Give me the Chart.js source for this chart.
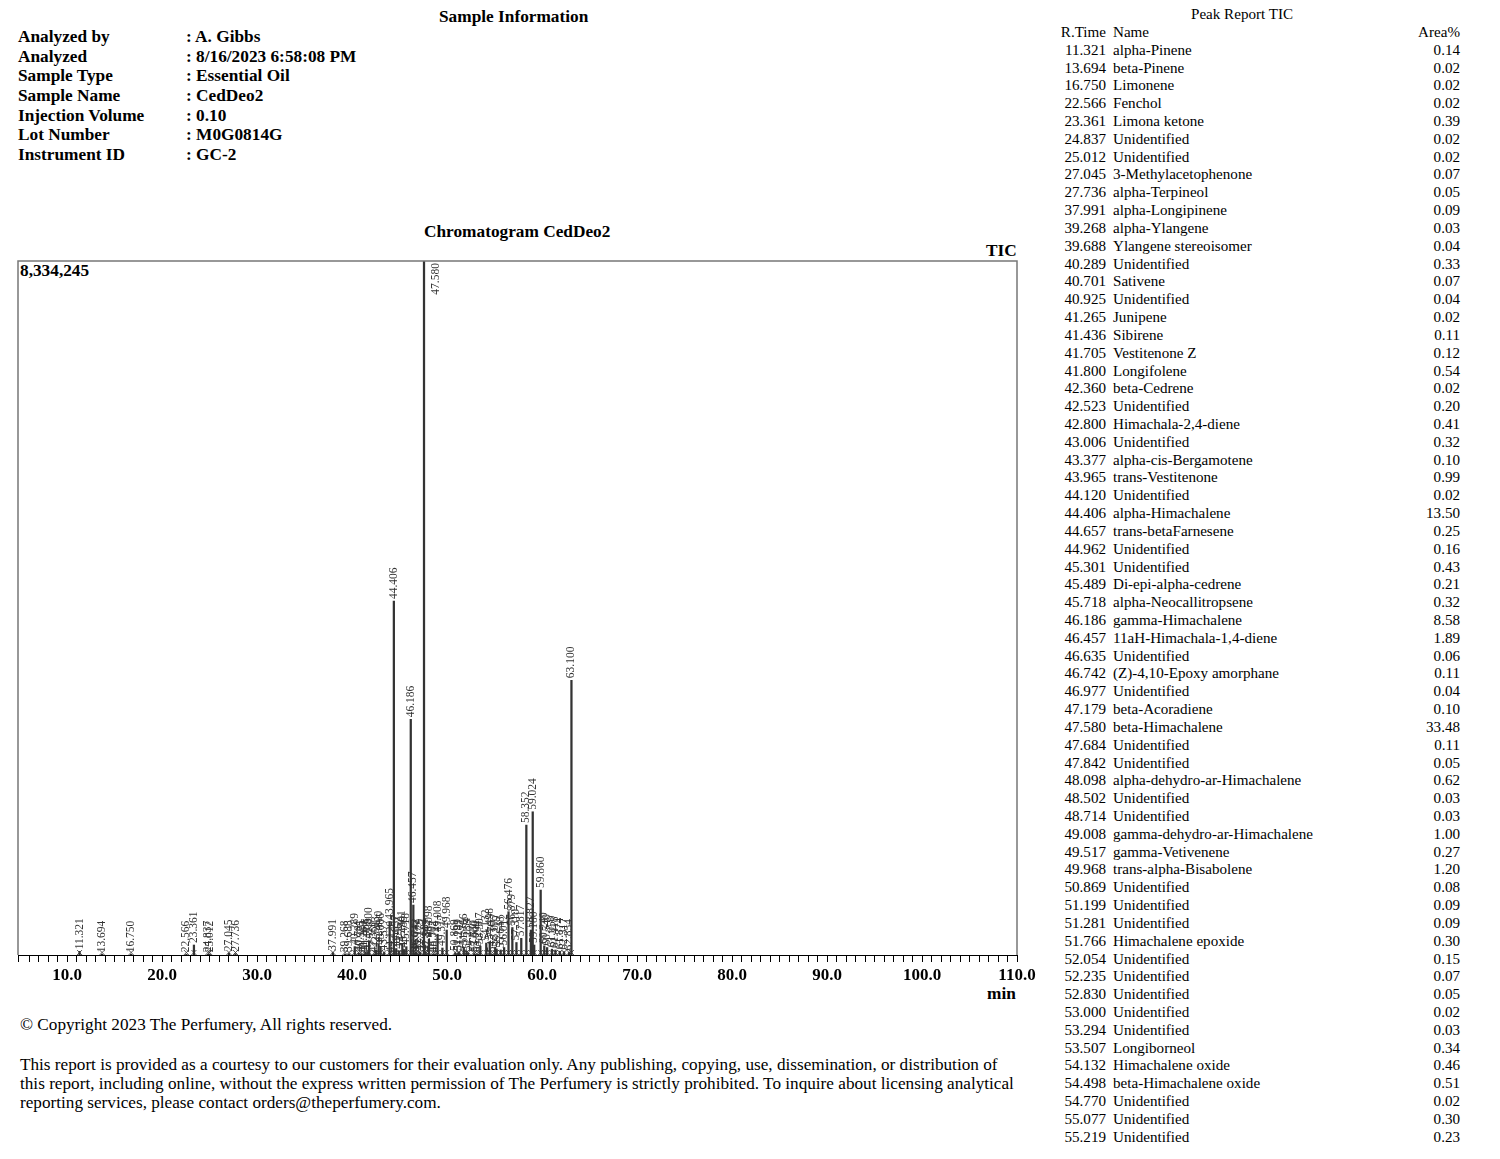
<!DOCTYPE html>
<html lang="en">
<head>
<meta charset="UTF-8">
<title>Chromatogram CedDeo2</title>
<script src="https://cdn.jsdelivr.net/npm/chart.js"></script>
<style>
  body { margin: 0; width: 1500px; height: 1159px; background: #fff; color: #000;
         font-family: "Liberation Serif", "Times New Roman", serif; position: relative; overflow: hidden; }
  .abs { position: absolute; white-space: nowrap; }
  .b { font-weight: bold; font-size: 17.3px; }
  #info { left: 18px; top: 27px; line-height: 19.67px; }
  #infoVals { left: 186px; top: 27px; line-height: 19.67px; }
  .row { position: absolute; font-size: 15.1px; line-height: 17.82px; white-space: nowrap; }
  .rt { left: 1040px; width: 66px; text-align: right; }
  .nm { left: 1113px; }
  .ar { left: 1380px; width: 80px; text-align: right; }
  #chartBox { position: absolute; left: 0; top: 255px; width: 1040px; height: 760px; }
  .foot { font-size: 17.2px; line-height: 19px; left: 20px; }
</style>
</head>
<body>
<div class="abs b" style="left:439px; top:7px; line-height:20px;">Sample Information</div>
<div class="abs b" id="info">Analyzed by<br>Analyzed<br>Sample Type<br>Sample Name<br>Injection Volume<br>Lot Number<br>Instrument ID</div>
<div class="abs b" id="infoVals">: A. Gibbs<br>: 8/16/2023 6:58:08 PM<br>: Essential Oil<br>: CedDeo2<br>: 0.10<br>: M0G0814G<br>: GC-2</div>

<div class="abs b" style="left:424px; top:222px; line-height:20px;">Chromatogram CedDeo2</div>
<div class="abs b" style="left:986px; top:241px; line-height:20px;">TIC</div>
<div class="abs b" style="left:20px; top:261px; line-height:20px;">8,334,245</div>
<div class="abs b" style="left:987px; top:984px; line-height:20px;">min</div>

<div id="chartBox"><canvas id="chroma" width="1040" height="760"></canvas></div>

<div class="abs foot" style="top:1015px;">© Copyright 2023 The Perfumery, All rights reserved.</div>
<div class="abs foot" style="top:1055px;">This report is provided as a courtesy to our customers for their evaluation only. Any publishing, copying, use, dissemination, or distribution of<br>this report, including online, without the express written permission of The Perfumery is strictly prohibited. To inquire about licensing analytical<br>reporting services, please contact orders@theperfumery.com.</div>

<div id="table"></div>

<script>
  // peak report (R.Time, name, area%)
  const peakTimes = [11.321, 13.694, 16.750, 22.566, 23.361, 24.837, 25.012, 27.045, 27.736, 37.991,
    39.268, 39.688, 40.289, 40.701, 40.925, 41.265, 41.436, 41.705, 41.800, 42.360,
    42.523, 42.800, 43.006, 43.377, 43.965, 44.120, 44.406, 44.657, 44.962, 45.301,
    45.489, 45.718, 46.186, 46.457, 46.635, 46.742, 46.977, 47.179, 47.580, 47.684,
    47.842, 48.098, 48.502, 48.714, 49.008, 49.517, 49.968, 50.869, 51.199, 51.281,
    51.766, 52.054, 52.235, 52.830, 53.000, 53.294, 53.507, 54.132, 54.498, 54.770,
    55.077, 55.219];
  const peakNames = ['alpha-Pinene', 'beta-Pinene', 'Limonene', 'Fenchol', 'Limona ketone', 'Unidentified',
    'Unidentified', '3-Methylacetophenone', 'alpha-Terpineol', 'alpha-Longipinene', 'alpha-Ylangene',
    'Ylangene stereoisomer', 'Unidentified', 'Sativene', 'Unidentified', 'Junipene', 'Sibirene',
    'Vestitenone Z', 'Longifolene', 'beta-Cedrene', 'Unidentified', 'Himachala-2,4-diene', 'Unidentified',
    'alpha-cis-Bergamotene', 'trans-Vestitenone', 'Unidentified', 'alpha-Himachalene', 'trans-betaFarnesene',
    'Unidentified', 'Unidentified', 'Di-epi-alpha-cedrene', 'alpha-Neocallitropsene', 'gamma-Himachalene',
    '11aH-Himachala-1,4-diene', 'Unidentified', '(Z)-4,10-Epoxy amorphane', 'Unidentified', 'beta-Acoradiene',
    'beta-Himachalene', 'Unidentified', 'Unidentified', 'alpha-dehydro-ar-Himachalene', 'Unidentified',
    'Unidentified', 'gamma-dehydro-ar-Himachalene', 'gamma-Vetivenene', 'trans-alpha-Bisabolene',
    'Unidentified', 'Unidentified', 'Unidentified', 'Himachalene epoxide', 'Unidentified', 'Unidentified',
    'Unidentified', 'Unidentified', 'Unidentified', 'Longiborneol', 'Himachalene oxide',
    'beta-Himachalene oxide', 'Unidentified', 'Unidentified', 'Unidentified'];
  const peakAreas = [0.14, 0.02, 0.02, 0.02, 0.39, 0.02, 0.02, 0.07, 0.05, 0.09,
    0.03, 0.04, 0.33, 0.07, 0.04, 0.02, 0.11, 0.12, 0.54, 0.02,
    0.20, 0.41, 0.32, 0.10, 0.99, 0.02, 13.50, 0.25, 0.16, 0.43,
    0.21, 0.32, 8.58, 1.89, 0.06, 0.11, 0.04, 0.10, 33.48, 0.11,
    0.05, 0.62, 0.03, 0.03, 1.00, 0.27, 1.20, 0.08, 0.09, 0.09,
    0.30, 0.15, 0.07, 0.05, 0.02, 0.03, 0.34, 0.46, 0.51, 0.02,
    0.30, 0.23];
  // peak heights (counts), same order as peakTimes
  const peakHeights = [44000, 8000, 8000, 8000, 120000, 8000, 8000, 22000, 16000, 28000,
    10000, 13000, 100000, 22000, 13000, 8000, 34000, 37000, 170000, 8000,
    62000, 128000, 100000, 31000, 400000, 8000, 4250000, 78000, 50000, 134000,
    66000, 100000, 2830000, 600000, 19000, 34000, 13000, 31000, 10400000, 34000,
    16000, 190000, 10000, 10000, 250000, 84000, 300000, 25000, 28000, 28000,
    94000, 47000, 22000, 16000, 8000, 10000, 106000, 143000, 160000, 8000,
    94000, 72000];
  // peaks on the trace past the end of the printed report
  const extraTimes = [55.648, 56.012, 56.476, 56.879, 57.310, 57.817, 58.352, 58.827, 59.024, 59.180,
    59.860, 60.240, 60.540, 61.050, 61.418, 61.874, 62.317, 62.854, 63.100];
  const extraHeights = [60000, 90000, 520000, 330000, 150000, 200000, 1560000, 300000, 1720000, 120000,
    780000, 110000, 90000, 70000, 60000, 45000, 40000, 30000, 3300000];

  const yMax = 8334245;
  const xMin = 4.842;
  const xMax = 110;

  // report table
  const table = document.getElementById('table');
  function addRow(i, rt, nm, ar) {
    const top = 6.1 + i * 17.82;
    table.insertAdjacentHTML('beforeend',
      `<div class="row rt" style="top:${top}px">${rt}</div>` +
      `<div class="row nm" style="top:${top}px">${nm}</div>` +
      `<div class="row ar" style="top:${top}px">${ar}</div>`);
  }
  table.insertAdjacentHTML('beforeend',
    '<div class="row" style="left:1191px; top:6.1px">Peak Report TIC</div>');
  addRow(1, 'R.Time', 'Name', 'Area%');
  peakTimes.forEach((t, i) => addRow(i + 2, t.toFixed(3), peakNames[i], peakAreas[i].toFixed(2)));

  const allPeaks = peakTimes.map((t, i) => ({x: t, y: peakHeights[i]}))
    .concat(extraTimes.map((t, i) => ({x: t, y: extraHeights[i]})));

  const frameAndLabels = {
    id: 'frameAndLabels',
    afterDatasetsDraw(chart) {
      const {ctx, chartArea: a} = chart;
      ctx.save();
      ctx.strokeStyle = '#777';
      ctx.lineWidth = 1.5;
      ctx.beginPath();
      ctx.moveTo(a.left, a.bottom);
      ctx.lineTo(a.left, a.top);
      ctx.lineTo(a.right, a.top);
      ctx.lineTo(a.right, a.bottom);
      ctx.stroke();

      // retention time labels
      ctx.font = '11.5px "Liberation Serif"';
      ctx.fillStyle = '#333';
      ctx.textBaseline = 'middle';
      const meta = chart.getDatasetMeta(0);
      meta.data.forEach((el, i) => {
        const label = allPeaks[i].x.toFixed(3);
        const w = ctx.measureText(label).width;
        ctx.save();
        if (el.y - w - 3 < a.top) {
          ctx.translate(el.x + 12, a.top + 2 + w);
        } else {
          ctx.translate(el.x, el.y - 2);
        }
        ctx.rotate(-Math.PI / 2);
        ctx.textAlign = 'left';
        ctx.fillText(label, 0, 0);
        ctx.restore();
        // baseline marker
        ctx.strokeStyle = '#333';
        ctx.lineWidth = 0.8;
        ctx.beginPath();
        ctx.moveTo(el.x - 2.5, a.bottom - 5);
        ctx.lineTo(el.x + 2.5, a.bottom);
        ctx.moveTo(el.x + 2.5, a.bottom - 5);
        ctx.lineTo(el.x - 2.5, a.bottom);
        ctx.stroke();
      });
      ctx.restore();
    }
  };

  new Chart(document.getElementById('chroma'), {
    type: 'bar',
    data: {
      datasets: [{
        label: 'TIC',
        data: allPeaks,
        backgroundColor: '#333',
        barThickness: 1.6
      }]
    },
    options: {
      responsive: false,
      animation: false,
      devicePixelRatio: 1,
      layout: {padding: {left: 18, right: 23, top: 6, bottom: 0}},
      plugins: {legend: {display: false}, tooltip: {enabled: false}},
      scales: {
        x: {
          type: 'linear',
          min: xMin,
          max: xMax,
          offset: false,
          afterFit(scale) { scale.height = 60; },
          grid: {offset: false, drawOnChartArea: false, drawTicks: true, tickLength: 7, color: '#000'},
          border: {color: '#000', width: 1},
          ticks: {
            stepSize: 1,
            autoSkip: false,
            maxRotation: 0,
            padding: 3,
            color: '#000',
            font: {family: '"Liberation Serif"', size: 17, weight: 'bold'},
            callback: v => (Math.abs(v - Math.round(v / 10) * 10) < 1e-6 ? Number(v).toFixed(1) : '')
          }
        },
        y: {display: false, min: 0, max: yMax}
      }
    },
    plugins: [frameAndLabels]
  });
</script>
</body>
</html>
